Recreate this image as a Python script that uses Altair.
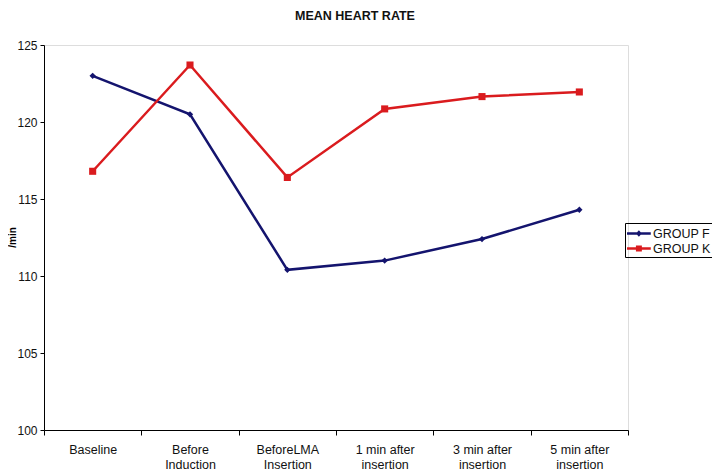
import altair as alt
import pandas as pd

categories = ["Baseline", "Before\nInduction", "BeforeLMA\nInsertion",
              "1 min after\ninsertion", "3 min after\ninsertion", "5 min after\ninsertion"]
group_f = [123.0, 120.5, 110.4, 111.0, 112.4, 114.3]
group_k = [116.8, 123.7, 116.4, 120.85, 121.65, 121.95]
groups = ["GROUP F", "GROUP K"]
colors = ["#14146E", "#DA1B1E"]
y_ticks = [100, 105, 110, 115, 120, 125]

rows = []
for c, f, k in zip(categories, group_f, group_k):
    rows.append({"cat": c, "group": "GROUP F", "value": f})
    rows.append({"cat": c, "group": "GROUP K", "value": k})
df = pd.DataFrame(rows)

FONT = "Liberation Sans"

x_enc = alt.X("cat:N", sort=categories,
              scale=alt.Scale(paddingInner=0, paddingOuter=0),
              axis=alt.Axis(title=None, tickBand="extent", labelAngle=0,
                            labelExpr="split(datum.label, '\\n')",
                            labelFontSize=12.5, labelFont=FONT, labelColor="#111",
                            labelPadding=8, labelLineHeight=15,
                            tickColor="black", domainColor="black", tickSize=5,
                            grid=False, labelBaseline="top"))
y_enc = alt.Y("value:Q",
              scale=alt.Scale(domain=[100, 125], nice=False, zero=False),
              axis=alt.Axis(values=y_ticks, title="/min", titleFontSize=10,
                            titleFont=FONT, titleFontWeight="bold",
                            titleX=-27, titleY=192, titleAngle=-90,
                            labelFontSize=12, labelFont=FONT, labelColor="#111",
                            tickColor="black", domainColor="black", tickSize=4,
                            labelPadding=3, grid=False))
color_enc = alt.Color("group:N", scale=alt.Scale(domain=groups, range=colors), legend=None)

base = alt.Chart(df)

lines = base.mark_line(strokeWidth=2.5).encode(x=x_enc, y=y_enc, color=color_enc)

points_f = base.transform_filter(alt.datum.group == "GROUP F").mark_point(
    filled=True, opacity=1, shape="diamond", size=40
).encode(x=x_enc, y=y_enc, color=color_enc)

points_k = base.transform_filter(alt.datum.group == "GROUP K").mark_point(
    filled=True, opacity=1, shape="square", size=50
).encode(x=x_enc, y=y_enc, color=color_enc)

legend_paths = [
    "M-1,-0.15H1.8V0.15H-1Z M0.4,-0.38L0.75,0L0.4,0.38L0.05,0Z",
    "M-1,-0.15H1.8V0.15H-1Z M0.05,-0.35H0.75V0.35H0.05Z",
]

legend_props = dict(title=None, orient="none", legendX=581, legendY=178,
                    strokeColor="black", padding=2,
                    labelFontSize=12.5, labelFont=FONT, labelColor="#111",
                    symbolSize=288, labelOffset=9, rowPadding=0,
                    symbolStrokeWidth=0)

legend_layer = base.transform_filter("false").mark_point(filled=True, opacity=1).encode(
    x=x_enc, y=y_enc,
    fill=alt.Fill("group:N", scale=alt.Scale(domain=groups, range=colors),
                  legend=alt.Legend(**legend_props)),
    shape=alt.Shape("group:N", scale=alt.Scale(domain=groups, range=legend_paths),
                    legend=alt.Legend(**legend_props)),
)

chart = alt.layer(lines, points_f, points_k, legend_layer).resolve_scale(
    fill="independent", shape="independent"
).properties(
    width=584, height=385,
    title=alt.Title("MEAN HEART RATE", fontSize=12.5, font=FONT, fontWeight="bold",
                    color="#111", dx=19, offset=17),
    autosize=alt.AutoSizeParams(type="none"),
    padding={"left": 36, "top": 37, "right": 84, "bottom": 40},
).configure_view(stroke=None).configure(background="white")

chart.save("out.html", embed_options={"renderer": "svg", "actions": False})
